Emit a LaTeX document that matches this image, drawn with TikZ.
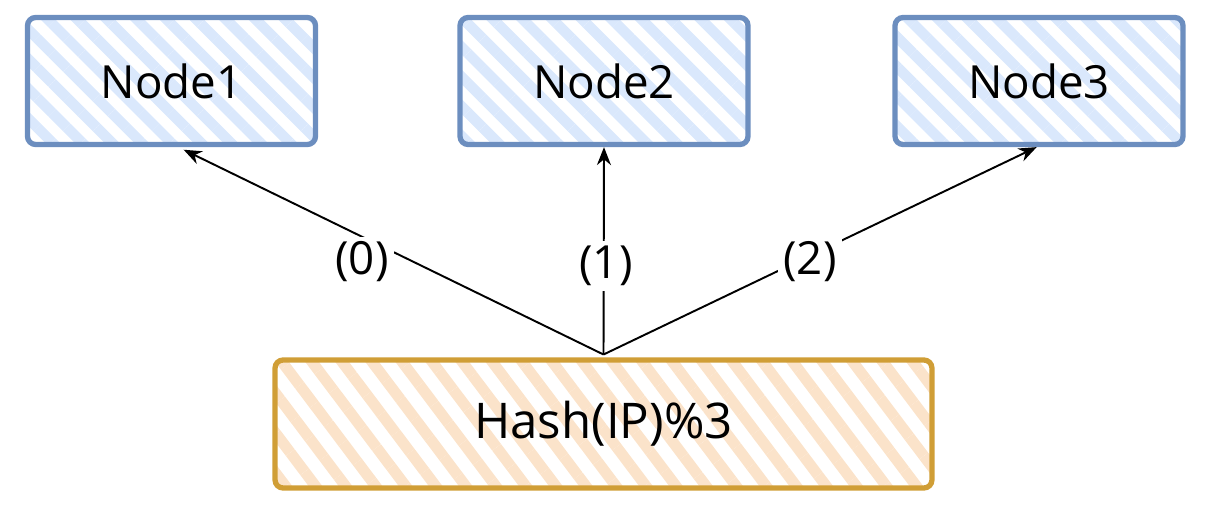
\documentclass[tikz,border=0pt]{standalone}
\usepackage{fontspec}
\setmainfont{Open Sans}
\usetikzlibrary{patterns.meta,arrows.meta}
\definecolor{nodeline}{HTML}{6C8EBF}
\definecolor{nodefill}{HTML}{DAE8FC}
\definecolor{hashline}{HTML}{D09E36}
\definecolor{hashfill}{HTML}{FBE3CA}
\begin{document}
\begin{tikzpicture}[x=0.02cm,y=-0.02cm,
font=\fontsize{26}{31}\selectfont,
server node/.style={rectangle,rounded corners=0.16cm,draw=nodeline,line width=3pt,
  minimum width=5.76cm,minimum height=2.54cm,
  pattern={Lines[angle=-45,distance=0.42cm,line width=0.21cm]},pattern color=nodefill},
hash node/.style={rectangle,rounded corners=0.16cm,draw=hashline,line width=3pt,
  minimum width=13.14cm,minimum height=2.56cm,font=\fontsize{28}{33}\selectfont,
  pattern={Lines[angle=-53,distance=0.48cm,line width=0.22cm]},pattern color=hashfill},
edge label/.style={fill=white,inner sep=3pt},
hash arrow/.style={-{Stealth[length=0.36cm,width=0.28cm]},line width=1.1pt}]

\useasboundingbox (0,0) rectangle (1208,506);

\node[server node] (n1) at (171.5,81) {Node1};
\node[server node] (n2) at (604,81) {Node2};
\node[server node] (n3) at (1039,81) {Node3};
\node[hash node] (h) at (603.5,424) {Hash(IP)\%3};

\draw [hash arrow] (h.north) -- (n1.-80);
\draw [hash arrow] (h.north) -- (n2.south);
\draw [hash arrow] (h.north) -- (n3.-92);

\node[edge label] (l0) at (362,262) {(0)};
\node[edge label] (l1) at (606,266) {(1)};
\node[edge label] (l2) at (810,262) {(2)};
\end{tikzpicture}
\end{document}
